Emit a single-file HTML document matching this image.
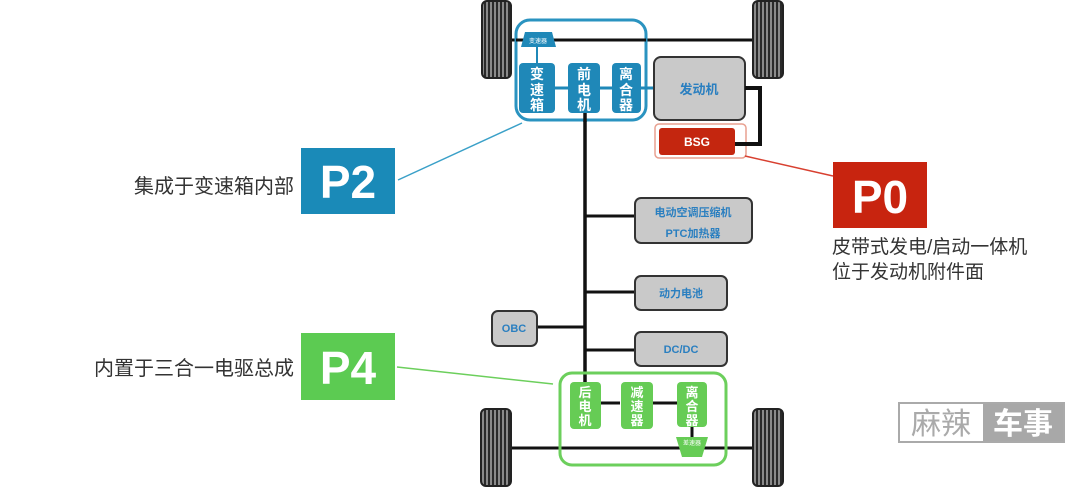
<!DOCTYPE html>
<html><head><meta charset="utf-8"><style>
html,body{margin:0;padding:0;background:#fff;}
svg{display:block;}
text{font-family:"Liberation Sans","Noto Sans CJK SC",sans-serif;}
</style></head><body>
<svg width="1080" height="487" viewBox="0 0 1080 487" xmlns="http://www.w3.org/2000/svg">
<defs>
<pattern id="tr" width="4" height="10" patternUnits="userSpaceOnUse">
<rect width="4" height="10" fill="#8a8a8a"/><rect width="2" height="10" fill="#2a2a2a"/>
</pattern>
</defs>
<line x1="505" y1="40" x2="760" y2="40" stroke="#111" stroke-width="3"/>
<line x1="505" y1="448" x2="760" y2="448" stroke="#111" stroke-width="3"/>
<g stroke="#222" stroke-width="2">
<rect x="482" y="1" width="29" height="77" rx="5" fill="url(#tr)"/>
<rect x="753" y="1" width="30" height="77" rx="5" fill="url(#tr)"/>
<rect x="481" y="409" width="30" height="77" rx="5" fill="url(#tr)"/>
<rect x="753" y="409" width="30" height="77" rx="5" fill="url(#tr)"/>
</g>
<line x1="585" y1="110" x2="585" y2="385" stroke="#111" stroke-width="3.5"/>
<line x1="585" y1="216" x2="636" y2="216" stroke="#111" stroke-width="3"/>
<line x1="585" y1="292" x2="636" y2="292" stroke="#111" stroke-width="3"/>
<line x1="585" y1="350" x2="636" y2="350" stroke="#111" stroke-width="3"/>
<line x1="537" y1="327" x2="585" y2="327" stroke="#111" stroke-width="3"/>
<rect x="516" y="20" width="130" height="100" rx="14" fill="#fff" stroke="#2a93c0" stroke-width="3"/>
<line x1="516" y1="40" x2="646" y2="40" stroke="#111" stroke-width="3"/>
<line x1="537" y1="45" x2="537" y2="64" stroke="#1f88b8" stroke-width="2"/>
<line x1="555" y1="88" x2="612" y2="88" stroke="#1f88b8" stroke-width="3"/>
<line x1="640" y1="88" x2="655" y2="88" stroke="#1f88b8" stroke-width="3"/>
<polygon points="521,47 556,47 552,32 525,32" fill="#1f88b8"/>
<text x="538" y="43" font-size="6" fill="#fff" text-anchor="middle">变速器</text>
<g fill="#1f88b8"><rect x="519" y="63" width="36" height="50" rx="4"/><rect x="568" y="63" width="32" height="50" rx="4"/><rect x="612" y="63" width="29" height="50" rx="4"/></g>
<g fill="#fff" font-size="14" font-weight="bold" text-anchor="middle">
<text x="537" y="79">变</text><text x="537" y="95">速</text><text x="537" y="110">箱</text>
<text x="584" y="79">前</text><text x="584" y="95">电</text><text x="584" y="110">机</text>
<text x="626" y="79">离</text><text x="626" y="95">合</text><text x="626" y="110">器</text>
</g>
<line x1="585" y1="113" x2="585" y2="122" stroke="#111" stroke-width="3.5"/>
<rect x="654" y="57" width="91" height="63" rx="7" fill="#c9c9c9" stroke="#333" stroke-width="2"/>
<text x="699" y="94" font-size="13" font-weight="bold" fill="#2a7fc0" text-anchor="middle">发动机</text>
<rect x="655" y="124" width="91" height="34" rx="4" fill="none" stroke="#e8a090" stroke-width="1.5"/>
<rect x="659" y="128" width="76" height="27" rx="3" fill="#c4260f"/>
<text x="697" y="146" font-size="12" font-weight="bold" fill="#fff" text-anchor="middle">BSG</text>
<path d="M745 88 H760 V144 H735" fill="none" stroke="#111" stroke-width="4"/>
<g fill="#c9c9c9" stroke="#333" stroke-width="2">
<rect x="635" y="198" width="117" height="45" rx="6"/>
<rect x="635" y="276" width="92" height="34" rx="6"/>
<rect x="635" y="332" width="92" height="34" rx="6"/>
<rect x="492" y="311" width="45" height="35" rx="6"/>
</g>
<g fill="#2a7fc0" font-size="11" font-weight="bold" text-anchor="middle">
<text x="693" y="216">电动空调压缩机</text>
<text x="693" y="237">PTC加热器</text>
<text x="681" y="297">动力电池</text>
<text x="681" y="353">DC/DC</text>
<text x="514" y="332">OBC</text>
</g>
<rect x="560" y="373" width="166" height="92" rx="12" fill="none" stroke="#6ccf5c" stroke-width="3"/>
<line x1="600" y1="403" x2="620" y2="403" stroke="#111" stroke-width="3"/>
<line x1="652" y1="403" x2="677" y2="403" stroke="#111" stroke-width="3"/>
<line x1="692" y1="425" x2="692" y2="440" stroke="#111" stroke-width="3"/>
<g fill="#66cc55">
<rect x="570" y="382" width="31" height="47" rx="4"/><rect x="621" y="382" width="32" height="47" rx="4"/><rect x="677" y="382" width="30" height="45" rx="4"/>
<polygon points="676,437 708,437 702,457 682,457"/>
</g>
<text x="692" y="445" font-size="6" fill="#fff" text-anchor="middle">差速器</text>
<g fill="#fff" font-size="13" font-weight="bold" text-anchor="middle">
<text x="585" y="397">后</text><text x="585" y="411">电</text><text x="585" y="425">机</text>
<text x="637" y="397">减</text><text x="637" y="411">速</text><text x="637" y="425">器</text>
<text x="692" y="397">离</text><text x="692" y="411">合</text><text x="692" y="425">器</text>
</g>
<line x1="398" y1="180" x2="522" y2="123" stroke="#3aa0c8" stroke-width="1.5"/>
<line x1="397" y1="367" x2="553" y2="384" stroke="#6ccf5c" stroke-width="1.5"/>
<line x1="745" y1="156" x2="833" y2="176" stroke="#d84030" stroke-width="1.5"/>
<rect x="301" y="148" width="94" height="66" fill="#1a8ab8"/>
<text x="348" y="198" font-size="46" font-weight="bold" fill="#fff" text-anchor="middle">P2</text>
<rect x="301" y="333" width="94" height="67" fill="#5ccb52"/>
<text x="348" y="384" font-size="46" font-weight="bold" fill="#fff" text-anchor="middle">P4</text>
<rect x="833" y="162" width="94" height="66" fill="#c8240f"/>
<text x="880" y="213" font-size="46" font-weight="bold" fill="#fff" text-anchor="middle">P0</text>
<g fill="#333" font-size="20">
<text x="294" y="193" text-anchor="end">集成于变速箱内部</text>
<text x="294" y="375" text-anchor="end">内置于三合一电驱总成</text>
</g>
<g fill="#333" font-size="19">
<text x="832" y="253">皮带式发电/启动一体机</text>
<text x="832" y="278">位于发动机附件面</text>
</g>
<rect x="899" y="403" width="165" height="39" fill="#fff" stroke="#aaa" stroke-width="2"/>
<rect x="983" y="404" width="80" height="37" fill="#a8a8a8"/>
<text x="941" y="434" font-size="30" fill="#aaa" text-anchor="middle" font-family="Noto Serif CJK SC,serif">麻辣</text>
<text x="1023" y="434" font-size="30" font-weight="bold" fill="#fff" text-anchor="middle">车事</text>
</svg>
</body></html>
